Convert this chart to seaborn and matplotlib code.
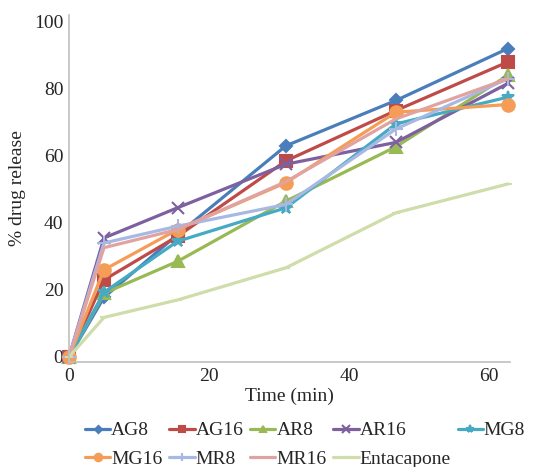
import matplotlib
matplotlib.use("Agg")
import matplotlib.pyplot as plt
import seaborn as sns

time = [0, 5, 15.5, 31, 46.7, 62.7]
series_names = ["AG8", "AG16", "AR8", "AR16", "MG8", "MG16", "MR8", "MR16", "Entacapone"]
AG8 = [0, 17.8, 36.5, 63, 76.5, 92]
AG16 = [0, 23, 36, 58.5, 73.5, 88]
AR8 = [0, 19, 28.5, 46.5, 62.7, 84]
AR16 = [0, 35.5, 44.5, 57.5, 64, 81.6]
MG8 = [0, 19.3, 34.5, 44.5, 69.5, 77.5]
MG16 = [0, 26, 38, 52, 73, 75.3]
MR8 = [0, 34, 39, 45.5, 68, 83]
MR16 = [0, 32.6, 38, 52.3, 71, 83]
Entacapone = [0, 11.8, 17, 26.6, 43, 51.6]
values = [AG8, AG16, AR8, AR16, MG8, MG16, MR8, MR16, Entacapone]

colors = ["#4A7EBB", "#BE4B48", "#98B954", "#7D60A0", "#46AAC5", "#F59D56", "#A7B9E3", "#E0A3A2", "#CEDDAA"]
markers = ["D", "s", "^", "x", "*", "o", "+", None, "_"]
msizes = [6, 8, 8, 9, 9, 9, 10, 0, 6]

sns.set_style("white")
plt.rcParams["font.family"] = ["Liberation Serif", "DejaVu Serif"]

fig = plt.figure(figsize=(5.39, 4.67), dpi=100)
ax = fig.add_axes([69/539, 1 - 362/467, (510 - 69)/539, (362 - 15)/467])

for name, vals, c, m, ms in zip(series_names, values, colors, markers, msizes):
    kw = dict(x=time, y=vals, color=c, linewidth=2.3, label=name, ax=ax)
    if m is not None:
        kw.update(marker=m, markersize=ms, markeredgecolor=c, markeredgewidth=1.5)
    sns.lineplot(**kw)
for line in ax.get_lines():
    line.set_clip_on(False)

ax.set_xlim(0, 63)
ax.set_ylim(-1.5, 102)
ax.set_xticks([0, 20, 40, 60])
ax.set_yticks([0, 20, 40, 60, 80, 100])
ax.tick_params(axis="both", labelsize=14, length=0, pad=4)
for s in ["top", "right"]:
    ax.spines[s].set_visible(False)
for s in ["left", "bottom"]:
    ax.spines[s].set_color("#BFBFBF")
    ax.spines[s].set_linewidth(1.2)
ax.set_xlabel("Time (min)", fontsize=14, labelpad=2)
ax.set_ylabel("% drug release", fontsize=14, labelpad=6)

handles, labels = ax.get_legend_handles_labels()
if ax.get_legend():
    ax.get_legend().remove()
order = [0, 5, 1, 6, 2, 7, 3, 8, 4]
leg = fig.legend([handles[i] for i in order], [labels[i] for i in order],
                 loc="upper center", bbox_to_anchor=(0.566, 1 - 414/467), ncol=5,
                 frameon=False, fontsize=14, handlelength=1.3, handletextpad=0.05,
                 columnspacing=0.35, labelspacing=0.55, borderaxespad=0, markerscale=0.6)

fig.savefig("out.png", dpi=100)
